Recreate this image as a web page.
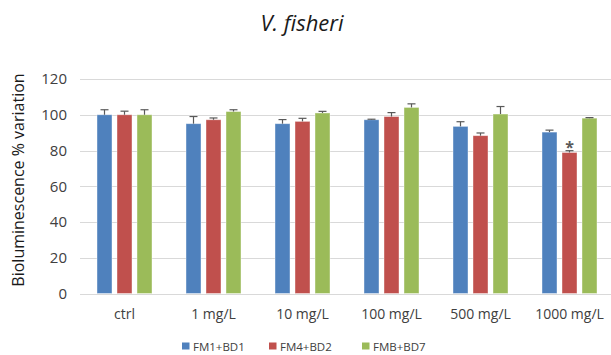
<!DOCTYPE html>
<html>
<head>
<meta charset="utf-8">
<script src="https://cdn.jsdelivr.net/npm/d3@7"></script>
<style>
  body { margin: 0; background: #fff; }
  text { font-family: 'Open Sans', 'Noto Sans', sans-serif; }
</style>
</head>
<body>
<div id="chart"></div>
<script>
let categories = ['ctrl', '1 mg/L', '10 mg/L', '100 mg/L', '500 mg/L', '1000 mg/L']
let seriesNames = ['FM1+BD1', 'FM4+BD2', 'FMB+BD7']
let fm1 = [100, 95, 95, 97.2, 93.5, 90.3]
let fm1Err = [2.8, 4, 2.3, 0.3, 2.6, 1.1]
let fm4 = [100, 97.2, 96.3, 99, 88.3, 78.9]
let fm4Err = [2, 1, 1.7, 2.2, 1.5, 1]
let fmb = [100, 101.8, 101, 104.1, 100.4, 98.1]
let fmbErr = [2.8, 1, 0.9, 2, 4.2, 0.3]
let yTicks = [0, 20, 40, 60, 80, 100, 120]
let colors = ['#4F81BD', '#C0504D', '#9BBB59']
let starred = [{ cat: '1000 mg/L', series: 1 }]

let width = 611
let height = 355
let margin = { top: 79, left: 80, right: -3, bottom: 61 }

let svg = d3
  .select('#chart')
  .append('svg')
  .attr('width', width)
  .attr('height', height)

let rows = []
let vals = [fm1, fm4, fmb]
let errs = [fm1Err, fm4Err, fmbErr]
categories.forEach((c, i) => {
  seriesNames.forEach((s, j) => {
    rows.push({ cat: c, series: j, value: vals[j][i], err: errs[j][i] })
  })
})

let x = d3
  .scaleBand()
  .domain(categories)
  .range([margin.left, width - margin.right])

let xInner = d3
  .scaleBand()
  .domain([0, 1, 2])
  .range([0, 55])
  .paddingInner(0.25)

let y = d3
  .scaleLinear()
  .domain([0, 120])
  .range([height - margin.bottom - 0.5, margin.top])

// gridlines
svg
  .selectAll('.grid')
  .data(yTicks)
  .enter()
  .append('line')
  .attr('class', 'grid')
  .attr('x1', margin.left)
  .attr('x2', width)
  .attr('y1', d => Math.round(y(d)) + 0.5)
  .attr('y2', d => Math.round(y(d)) + 0.5)
  .attr('stroke', '#d9d9d9')
  .attr('stroke-width', 1)

// y tick labels
svg
  .selectAll('.ylab')
  .data(yTicks)
  .enter()
  .append('text')
  .attr('class', 'ylab')
  .attr('x', 67)
  .attr('y', d => y(d))
  .attr('dy', '0.35em')
  .attr('text-anchor', 'end')
  .attr('font-size', 15)
  .attr('fill', '#404040')
  .text(d => d)

let barOffset = c => x(c) + x.bandwidth() / 2 - 27.5
let barMid = d => barOffset(d.cat) + xInner(d.series) + xInner.bandwidth() / 2

// bars
svg
  .selectAll('.bar')
  .data(rows)
  .enter()
  .append('rect')
  .attr('class', 'bar')
  .attr('x', d => barOffset(d.cat) + xInner(d.series))
  .attr('width', xInner.bandwidth())
  .attr('y', d => y(d.value))
  .attr('height', d => y(0) - y(d.value))
  .attr('fill', d => colors[d.series])
  .attr('stroke', '#ffffff')
  .attr('stroke-opacity', 0.5)
  .attr('stroke-width', 0.8)

// error bars (upper only)
let errG = svg
  .selectAll('.err')
  .data(rows)
  .enter()
  .append('g')
  .attr('class', 'err')
  .attr('stroke', '#595959')
  .attr('stroke-width', 1.2)

errG
  .append('line')
  .attr('x1', barMid)
  .attr('x2', barMid)
  .attr('y1', d => y(d.value))
  .attr('y2', d => y(d.value + d.err))

errG
  .append('line')
  .attr('x1', d => barMid(d) - 4)
  .attr('x2', d => barMid(d) + 4)
  .attr('y1', d => y(d.value + d.err))
  .attr('y2', d => y(d.value + d.err))

// asterisk
svg
  .selectAll('.star')
  .data(starred)
  .enter()
  .append('text')
  .attr('class', 'star')
  .attr('x', d => barMid(d))
  .attr('y', d => {
    let r = rows.find(r => r.cat === d.cat && r.series === d.series)
    return y(r.value + r.err) + 2
  })
  .attr('text-anchor', 'middle')
  .attr('font-size', 16)
  .attr('font-weight', 'bold')
  .attr('fill', '#595959')
  .text('*')

// x labels
svg
  .selectAll('.xlab')
  .data(categories)
  .enter()
  .append('text')
  .attr('class', 'xlab')
  .attr('x', d => x(d) + x.bandwidth() / 2)
  .attr('y', 319)
  .attr('text-anchor', 'middle')
  .attr('font-size', 14)
  .attr('fill', '#404040')
  .text(d => d)

// title
svg
  .append('text')
  .attr('x', 302)
  .attr('y', 31)
  .attr('text-anchor', 'middle')
  .attr('font-size', 22)
  .attr('font-style', 'italic')
  .attr('fill', '#1a1a1a')
  .text('V. fisheri')

// y axis title
svg
  .append('text')
  .attr('transform', 'translate(24,180) rotate(-90)')
  .attr('text-anchor', 'middle')
  .attr('font-size', 16)
  .attr('fill', '#1a1a1a')
  .text('Bioluminescence % variation')

// legend
let legendX = [182, 269, 362]
let legend = svg
  .selectAll('.legend')
  .data(seriesNames)
  .enter()
  .append('g')
  .attr('class', 'legend')
  .attr('transform', (d, i) => 'translate(' + legendX[i] + ',0)')

legend
  .append('rect')
  .attr('x', 0)
  .attr('y', 342.5)
  .attr('width', 7.5)
  .attr('height', 7)
  .attr('fill', (d, i) => colors[i])

legend
  .append('text')
  .attr('x', 11)
  .attr('y', 350.5)
  .attr('font-size', 11.5)
  .attr('fill', '#404040')
  .text(d => d)
</script>
</body>
</html>
